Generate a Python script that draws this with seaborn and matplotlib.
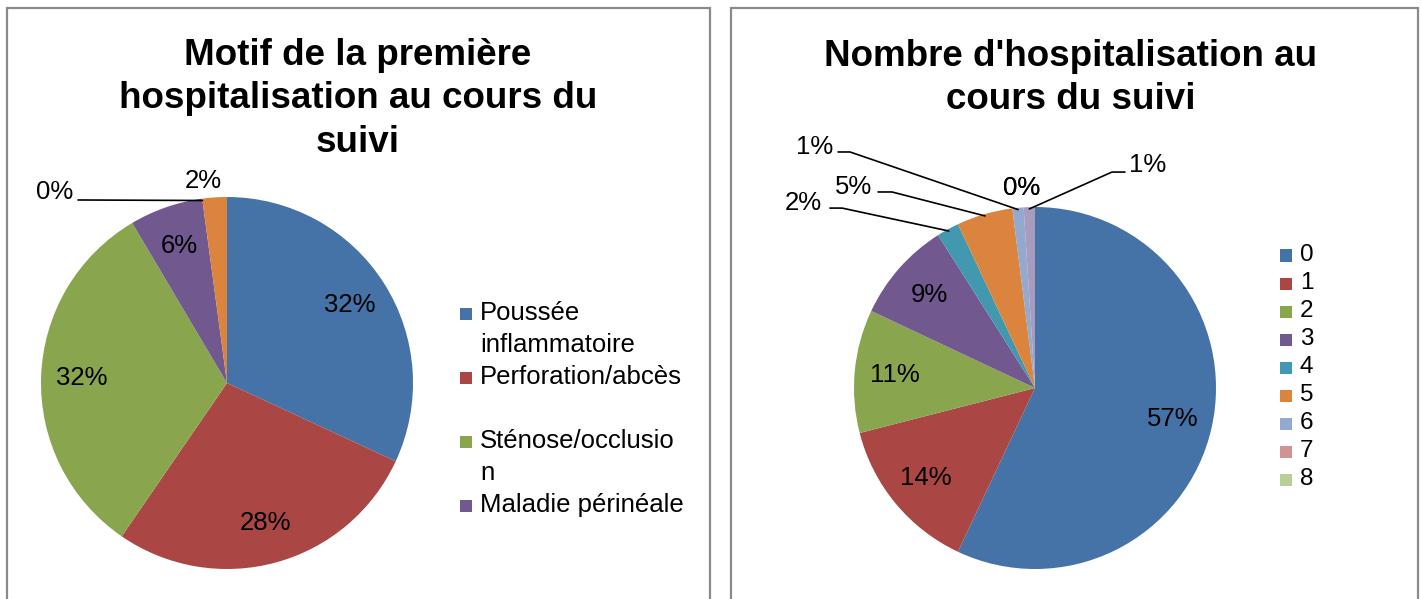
import matplotlib
matplotlib.use("Agg")
import matplotlib.pyplot as plt
from matplotlib.patches import Rectangle
import numpy as np
import seaborn as sns

sns.set_theme(style="white")
plt.rcParams['font.family'] = ['Liberation Sans', 'DejaVu Sans']
plt.rcParams['text.color'] = 'black'

# --- data ---
motif_labels = ["Poussée inflammatoire", "Perforation/abcès", "Sténose/occlusion",
                "Maladie périnéale", "Autre", "Non précisé"]
motif_counts = [15, 13, 15, 3, 0, 1]
motif_legend = [["Poussée", "inflammatoire"], ["Perforation/abcès"],
                ["Sténose/occlusio", "n"], ["Maladie périnéale"]]

nb_labels = ["0", "1", "2", "3", "4", "5", "6", "7", "8", "9"]
nb_values = [57, 14, 11, 9, 2, 5, 1, 0, 0, 1]

excel_colors = sns.color_palette(["#4572A7", "#AA4643", "#89A54E", "#71588F", "#4198AF",
                                  "#DB843D", "#93A9CF", "#D19392", "#B9CD96", "#A99BBD"])

W, H = 1421, 599
fig = plt.figure(figsize=(W / 100, H / 100), dpi=100)


def fx(px):
    return px / W


def fy(py):
    return 1 - py / H


def pie_axes(cx, cy, r, span=1.6):
    ax = fig.add_axes([fx(cx - span * r), fy(cy + span * r), 2 * span * r / W, 2 * span * r / H])
    return ax, span


def draw_pie(ax, span, values, outside):
    total = float(sum(values))
    wedges, _ = ax.pie(values, colors=excel_colors[:len(values)], startangle=90,
                       counterclock=False, radius=1, wedgeprops=dict(linewidth=0))
    ax.set_xlim(-span, span)
    ax.set_ylim(-span, span)
    ax.axis('off')
    for i, (w, v) in enumerate(zip(wedges, values)):
        pct = f"{v / total * 100:.0f}%"
        th = np.deg2rad((w.theta1 + w.theta2) / 2)
        if i in outside:
            (tx, ty), pts = outside[i]
            ax.text(tx, ty, pct, ha='center', va='center', fontsize=18.5, color='black')
            if pts:
                xs = [p[0] for p in pts] + [0.99 * np.cos(th)]
                ys = [p[1] for p in pts] + [0.99 * np.sin(th)]
                ax.plot(xs, ys, color='black', lw=1.2, clip_on=False)
        else:
            ax.text(0.78 * np.cos(th), 0.78 * np.sin(th), pct, ha='center', va='center',
                    fontsize=18.5, color='black')
    return wedges


def legend_square(x, y, color):
    s = 12
    fig.add_artist(Rectangle((fx(x), fy(y + s / 2)), s / W, s / H, transform=fig.transFigure,
                             facecolor=color, edgecolor='none'))


# panel borders
for x0, x1 in [(7, 710), (731, 1418)]:
    fig.add_artist(Rectangle((fx(x0), fy(640)), (x1 - x0) / W, 632 / H, transform=fig.transFigure,
                             facecolor='none', edgecolor='#8a8a8a', lw=1.6))

# --- left pie ---
ax1, sp1 = pie_axes(227, 383, 186)
left_outside = {
    4: ((-0.925, 1.027), [(-0.801, 0.984)]),
    5: ((-0.129, 1.086), []),
}
w1 = draw_pie(ax1, sp1, motif_counts, left_outside)
fig.text(fx(358), fy(99), "Motif de la première\nhospitalisation au cours du\nsuivi",
         ha='center', va='center', fontsize=26.5, fontweight='bold', linespacing=1.32)
for i, lines in enumerate(motif_legend):
    yc = 313 + 64 * i
    legend_square(460, yc + 1, excel_colors[i])
    for j, line in enumerate(lines):
        fig.text(fx(480), fy(yc + 32 * j), line, ha='left', va='center', fontsize=18.5)

# --- right pie ---
ax2, sp2 = pie_axes(1035, 388, 181)
right_outside = {
    4: ((-1.282, 1.022), [(-1.133, 0.994), (-1.066, 0.994)]),
    5: ((-1.005, 1.110), [(-0.867, 1.083), (-0.790, 1.083)]),
    6: ((-1.215, 1.331), [(-1.088, 1.304), (-1.022, 1.304)]),
    7: ((-0.072, 1.105), []),
    8: ((-0.072, 1.105), []),
    9: ((0.624, 1.232), [(0.497, 1.193), (0.425, 1.193)]),
}
w2 = draw_pie(ax2, sp2, nb_values, right_outside)
fig.text(fx(1071), fy(78), "Nombre d'hospitalisation au\ncours du suivi",
         ha='center', va='center', fontsize=26.5, fontweight='bold', linespacing=1.27)
for i, lab in enumerate(nb_labels[:9]):
    yc = 254.5 + 28.1 * i
    legend_square(1280, yc + 1, excel_colors[i])
    fig.text(fx(1300), fy(yc), lab, ha='left', va='center', fontsize=17.5)

plt.savefig('out.png', dpi=100)
